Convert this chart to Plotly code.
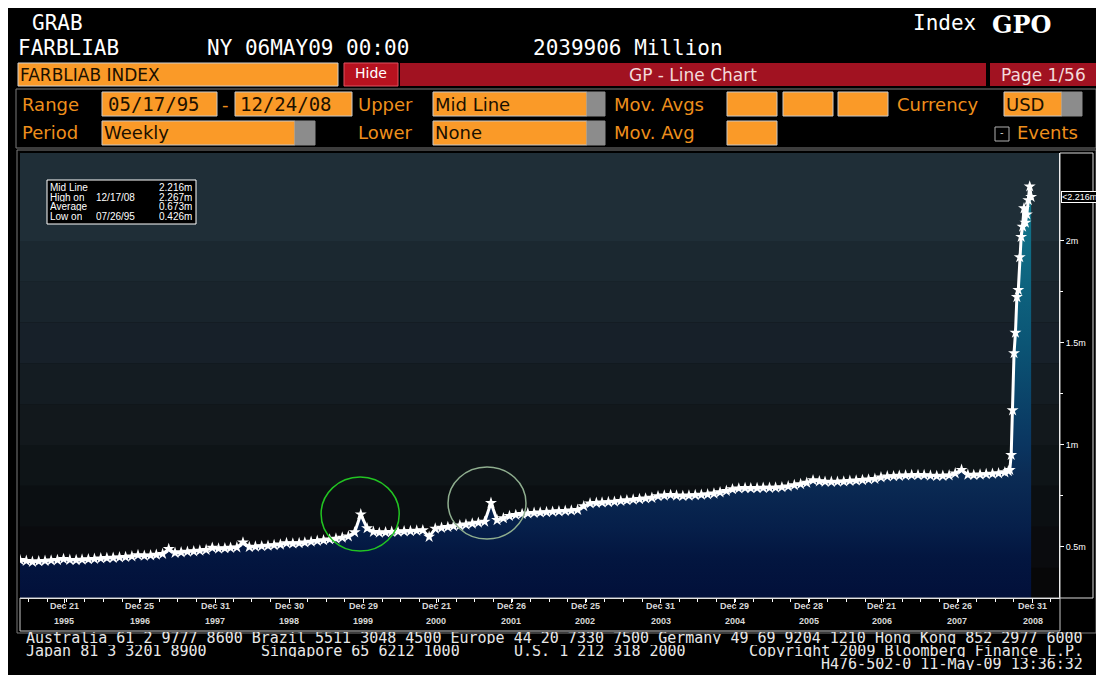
import pandas as pd
import plotly.graph_objects as go

# FARBLIAB Index, weekly (units: "m" of USD millions)
monthly_values = [
    0.436, 0.432, 0.427, 0.430, 0.432, 0.434, 0.436, 0.441,  # 1995 May-Dec
    0.437, 0.436, 0.438, 0.440, 0.442, 0.444, 0.446, 0.447, 0.449, 0.451, 0.454, 0.460,  # 1996
    0.457, 0.459, 0.462, 0.466, 0.490, 0.471, 0.474, 0.477, 0.479, 0.482, 0.486, 0.496,  # 1997
    0.492, 0.494, 0.496, 0.498, 0.522, 0.500, 0.502, 0.504, 0.506, 0.509, 0.512, 0.519,  # 1998
    0.517, 0.519, 0.522, 0.526, 0.530, 0.533, 0.537, 0.541, 0.546, 0.552, 0.572, 0.660,  # 1999
    0.592, 0.574, 0.570, 0.572, 0.574, 0.575, 0.577, 0.578, 0.580, 0.582, 0.550, 0.590,  # 2000
    0.594, 0.598, 0.602, 0.606, 0.610, 0.615, 0.619, 0.624, 0.716, 0.632, 0.641, 0.652,  # 2001
    0.657, 0.662, 0.665, 0.667, 0.669, 0.671, 0.673, 0.675, 0.677, 0.679, 0.682, 0.700,  # 2002
    0.714, 0.716, 0.718, 0.720, 0.722, 0.726, 0.729, 0.732, 0.735, 0.738, 0.741, 0.749,  # 2003
    0.752, 0.755, 0.752, 0.750, 0.752, 0.754, 0.756, 0.758, 0.762, 0.768, 0.775, 0.783,  # 2004
    0.787, 0.789, 0.788, 0.789, 0.790, 0.790, 0.791, 0.793, 0.797, 0.803, 0.808, 0.815,  # 2005
    0.827, 0.822, 0.820, 0.819, 0.820, 0.821, 0.824, 0.826, 0.828, 0.831, 0.834, 0.841,  # 2006
    0.846, 0.847, 0.849, 0.851, 0.852, 0.853, 0.852, 0.850, 0.848, 0.849, 0.851, 0.861,  # 2007
    0.878, 0.854, 0.853, 0.855, 0.857, 0.859, 0.861, 0.866,  # 2008 Jan-Aug
]
weekly_values = [  # 2008-09-03 .. 2008-12-24
    0.872, 0.878, 0.951, 1.170, 1.450, 1.550, 1.725, 1.760, 1.920,
    2.020, 2.070, 2.160, 2.090, 2.130, 2.200, 2.267, 2.216,
]
monthly_dates = pd.date_range("1995-05-01", "2008-08-01", freq="MS") + pd.Timedelta(days=16)
weekly_dates = pd.date_range("2008-09-03", "2008-12-24", freq="7D")

tick_dates = ["1995-12-21", "1996-12-25", "1997-12-31", "1998-12-30", "1999-12-29",
              "2000-12-21", "2001-12-26", "2002-12-25", "2003-12-31", "2004-12-29",
              "2005-12-28", "2006-12-21", "2007-12-26", "2008-12-31"]
tick_days = ["Dec 21", "Dec 25", "Dec 31", "Dec 30", "Dec 29", "Dec 21", "Dec 26",
             "Dec 25", "Dec 31", "Dec 29", "Dec 28", "Dec 21", "Dec 26", "Dec 31"]
tick_years = ["1995", "1996", "1997", "1998", "1999", "2000", "2001",
              "2002", "2003", "2004", "2005", "2006", "2007", "2008"]

y_ticks = [0.5, 1.0, 1.5, 2.0]
y_ticktext = ["0.5m", "1m", "1.5m", "2m"]

stats_labels = ["Mid Line", "High on", "Average", "Low on"]
stats_dates = ["", "12/17/08", "", "07/26/95"]
stats_values = ["2.216m", "2.267m", "0.673m", "0.426m"]
last_value = 2.216

dates = list(monthly_dates) + list(weekly_dates)
values = monthly_values + weekly_values

# the page puts the figure 8px in from the top-left corner; coordinates below are page pixels
OFF = 8
W, H = 1104 - OFF, 675 - OFF
X0, X1, Y0, Y1 = 20, 1059, 153, 598
SANS = "DejaVu Sans"
MONO = "DejaVu Sans Mono"
NARROW = "Liberation Sans Narrow, Liberation Sans, Arial"
ORANGE = "#fa9a28"
LABEL = "#ee8f1c"
RED = "#a11221"


def fx(p):
    return (p - X0) / (X1 - X0)


def fy(p):
    return (Y1 - p) / (Y1 - Y0)


shapes = []
annotations = []


def box(x0, y0, x1, y1, fill="rgba(0,0,0,0)", line="rgba(0,0,0,0)", width=1, layer="above"):
    shapes.append(dict(type="rect", xref="paper", yref="paper",
                       x0=fx(x0), x1=fx(x1), y0=fy(y1), y1=fy(y0),
                       fillcolor=fill, line=dict(color=line, width=width), layer=layer))


def text(x, y, s, size=18, color="white", family=SANS, anchor="left", **kw):
    annotations.append(dict(xref="paper", yref="paper", x=fx(x), y=fy(y), text=s,
                            showarrow=False, xanchor=anchor, yanchor="middle",
                            font=dict(size=size, color=color, family=family), **kw))


# white strip on the right of the page
box(1098, 0, 1106, 676, "white", "white")

# header
text(30, 23, "GRAB", 21, family=MONO)
text(16, 48, "FARBLIAB", 21, family=MONO)
text(205, 48, "NY 06MAY09 00:00", 21, family=MONO)
text(531, 48, "2039906 Million", 21, family=MONO)
text(911, 23, "Index", 21, family=MONO)
text(990, 24, "<b>GPO</b>", 24, family="DejaVu Serif")

box(18, 63, 338, 86, ORANGE, "#d0d0d0")
text(18, 75, "FARBLIAB INDEX", 17, "#1a1000")
box(344, 63, 398, 86, "#b7121f", "#e05060")
text(371, 73, "Hide", 14, "white", anchor="center")
box(400, 63, 986, 86, RED)
text(693, 75, "GP - Line Chart", 17, "#f3dada", anchor="center")
box(990, 63, 1097, 86, RED)
text(1043, 75, "Page 1/56", 17, "#f3dada", anchor="center")

box(16, 89, 1096, 148, line="#7a7a7a")
# row: range
text(20, 104, "Range", 18, LABEL)
box(102, 92, 217, 116, ORANGE, "#c8c8c8")
text(106, 104, "05/17/95", 19, "#1a1000", MONO)
text(225, 104, "-", 18, LABEL, anchor="center")
box(235, 92, 352, 116, ORANGE, "#c8c8c8")
text(238, 104, "12/24/08", 19, "#1a1000", MONO)
text(356, 104, "Upper", 18, LABEL)
box(433, 92, 587, 116, ORANGE, "#c8c8c8")
box(587, 92, 605, 116, "#8c8c8c", "#8c8c8c")
text(433, 104, "Mid Line", 18, "#1a1000")
text(612, 104, "Mov. Avgs", 18, LABEL)
for bx in (727, 783, 838):
    box(bx, 92, bx + 50, 116, ORANGE, "#c8c8c8")
text(895, 104, "Currency", 18, LABEL)
box(1004, 92, 1062, 116, ORANGE, "#c8c8c8")
box(1062, 92, 1082, 116, "#8c8c8c", "#8c8c8c")
text(1004, 104, "USD", 18, "#1a1000")
# row: period
text(20, 133, "Period", 18, LABEL)
box(102, 121, 295, 145, ORANGE, "#c8c8c8")
box(295, 121, 315, 145, "#8c8c8c", "#8c8c8c")
text(102, 133, "Weekly", 18, "#1a1000")
text(356, 133, "Lower", 18, LABEL)
box(433, 121, 587, 145, ORANGE, "#c8c8c8")
box(587, 121, 605, 145, "#8c8c8c", "#8c8c8c")
text(433, 133, "None", 18, "#1a1000")
text(612, 133, "Mov. Avg", 18, LABEL)
box(727, 121, 777, 145, ORANGE, "#c8c8c8")
box(995, 127, 1009, 141, "black", "#b0b0b0")
text(1002, 133, "-", 10, "#d0d0d0", anchor="center")
text(1015, 133, "Events", 18, LABEL)

# chart frames
box(17, 150, 1096, 633, line="#7a7a7a")
box(20, 598, 1060, 631, line="#c8c8c8")
box(1060, 153, 1093, 598, line="#d8d8d8")

# background bands of the plot area
band_edges = [0.2, 0.4, 0.6, 0.8, 1.0, 1.2, 1.4, 1.6, 1.8, 2.0, 2.5]
band_colors = ["#070708", "#0a0b0e", "#0b0f12", "#0e1417", "#12181c",
               "#141c22", "#172029", "#19242c", "#1b2830", "#1f2e37"]
for lo, hi, c in zip(band_edges[:-1], band_edges[1:], band_colors):
    shapes.append(dict(type="rect", xref="paper", yref="y", x0=0, x1=1, y0=lo, y1=hi,
                       fillcolor=c, line=dict(width=0), layer="below"))

# highlight circles
shapes.append(dict(type="circle", xref="x", yref="y", x0="1999-06-05", x1="2000-06-23",
                   y0=0.48, y1=0.843, line=dict(color="#22c422", width=1.5)))
shapes.append(dict(type="circle", xref="x", yref="y", x0="2001-02-18", x1="2002-03-08",
                   y0=0.539, y1=0.892, line=dict(color="#8fae8f", width=1.5)))

# stats legend box
box(47, 180, 196, 224, "black", "white")
for i, (lab, d, v) in enumerate(zip(stats_labels, stats_dates, stats_values)):
    yy = 187 + i * 9.6
    text(48, yy, lab, 10, "white", NARROW, height=10)
    text(94, yy, d, 10, "white", NARROW, height=10)
    text(194, yy, v, 10, "white", NARROW, anchor="right", height=10)

# two-row labels of the time axis
for d, day, yr in zip(tick_dates, tick_days, tick_years):
    for yy, s in ((606, day), (621, yr)):
        annotations.append(dict(xref="x", yref="paper", x=d, y=fy(yy), text=f"<b>{s}</b>",
                                showarrow=False, yanchor="middle",
                                font=dict(size=9, color="#d8d8d8", family=NARROW)))

# last value marker on the right axis
annotations.append(dict(xref="paper", yref="y", x=fx(1061), y=last_value, text="&lt;2.216m",
                        showarrow=False, xanchor="left", yanchor="middle", bgcolor="black",
                        bordercolor="white", borderwidth=1, borderpad=0,
                        font=dict(size=9, color="white", family=NARROW)))

# footer
FOOT = 15.0
text(24, 638, "Australia 61 2 9777 8600 Brazil 5511 3048 4500 Europe 44 20 7330 7500 "
     "Germany 49 69 9204 1210 Hong Kong 852 2977 6000", FOOT, "#e8e8e8", MONO, height=12)
text(24, 651, "Japan 81 3 3201 8900", FOOT, "#e8e8e8", MONO, height=12)
text(259, 651, "Singapore 65 6212 1000", FOOT, "#e8e8e8", MONO, height=12)
text(512, 651, "U.S. 1 212 318 2000", FOOT, "#e8e8e8", MONO, height=12)
text(1085, 651, "Copyright 2009 Bloomberg Finance L.P.", FOOT, "#e8e8e8", MONO, "right", height=12)
text(1085, 664, "H476-502-0 11-May-09 13:36:32", FOOT, "#e8e8e8", MONO, "right", height=12)

fig = go.Figure()
fig.add_trace(
    go.Scatter(
        x=dates,
        y=values,
        mode="lines+markers",
        line={"color": "white", "width": 3},
        marker={"symbol": "star", "size": 9, "color": "white"},
        fill="tozeroy",
        fillgradient={
            "type": "vertical",
            "start": 0.25,
            "stop": 2.27,
            "colorscale": [[0, "#02103a"], [0.1, "#031640"], [0.17, "#061f4a"],
                           [0.3, "#0b2c55"], [0.37, "#0a3560"], [0.62, "#0b5575"],
                           [0.87, "#106e86"], [1, "#147d8f"]],
        },
        hovertemplate="%{x|%m/%d/%y}: %{y:.3f}m<extra></extra>",
        showlegend=False,
    )
)

fig.update_layout(
    width=W,
    height=H,
    paper_bgcolor="black",
    plot_bgcolor="#0a0b0e",
    margin={"l": X0 - OFF, "r": 1104 - X1, "t": Y0 - OFF, "b": 675 - Y1, "pad": 0},
    shapes=shapes,
    annotations=annotations,
    xaxis={
        "type": "date",
        "range": ["1995-05-17", "2009-05-10"],
        "tickvals": tick_dates,
        "showticklabels": False,
        "ticks": "outside",
        "ticklen": 4,
        "tickcolor": "white",
        "minor": {"dtick": "M3", "tick0": "1995-12-31", "ticks": "outside",
                  "ticklen": 3, "tickcolor": "white"},
        "showgrid": False,
        "zeroline": False,
        "showline": True,
        "linecolor": "white",
        "fixedrange": True,
    },
    yaxis={
        "side": "right",
        "range": [0.25, 2.431],
        "tickvals": y_ticks,
        "ticktext": y_ticktext,
        "ticks": "outside",
        "ticklen": 4,
        "tickcolor": "white",
        "tickfont": {"size": 9, "color": "white", "family": NARROW},
        "minor": {"tickvals": [0.75, 1.25, 1.75], "ticks": "outside",
                  "ticklen": 3, "tickcolor": "white"},
        "showgrid": False,
        "zeroline": False,
        "showline": True,
        "linecolor": "white",
        "fixedrange": True,
    },
)

fig.write_html("out.html")
